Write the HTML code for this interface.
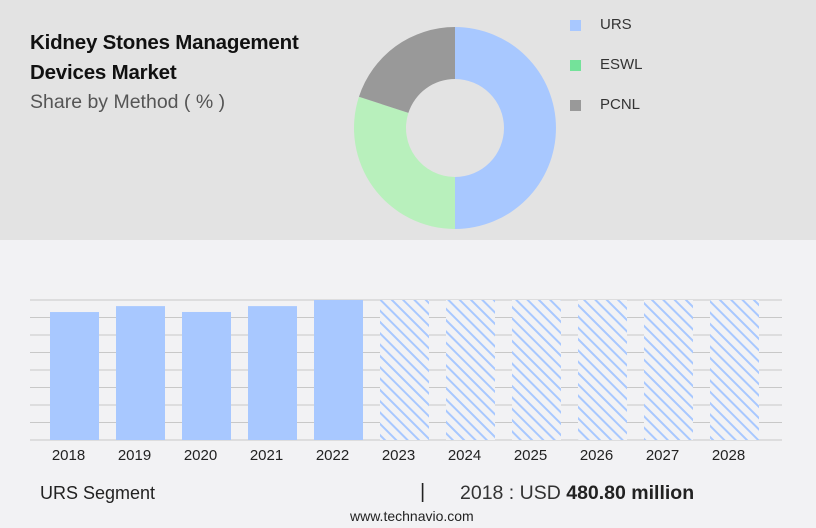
<!DOCTYPE html>
<html><head><meta charset="utf-8"><style>
body{margin:0;width:816px;height:528px;background:#f2f2f4;font-family:"Liberation Sans",sans-serif;position:relative;overflow:hidden}
.top{position:absolute;left:0;top:0;width:816px;height:240px;background:#e3e3e3}
.t{position:absolute;left:30px;top:28px;font-weight:bold;font-size:20.5px;line-height:30px;color:#111;letter-spacing:-0.2px}
.s{position:absolute;left:30px;top:91px;font-size:19.5px;color:#555}
.leg{position:absolute;left:570px;font-size:15px;color:#333}
.leg i{position:absolute;left:0;top:4px;width:11px;height:11px}
.leg span{position:absolute;left:30px;top:0}
</style></head><body>
<div class="top"></div>
<div class="t">Kidney Stones Management<br>Devices Market</div>
<div class="s">Share by Method ( % )</div>
<div class="leg" style="top:16px"><i style="background:#a8c8ff"></i><span>URS</span></div>
<div class="leg" style="top:56px"><i style="background:#74e29a"></i><span>ESWL</span></div>
<div class="leg" style="top:96px"><i style="background:#999"></i><span>PCNL</span></div>
<svg id="donut" width="816" height="240" style="position:absolute;left:0;top:0"></svg>
<svg id="bars" width="816" height="480" style="position:absolute;left:0;top:0">
<defs><pattern id="h" patternUnits="userSpaceOnUse" width="8" height="8" patternTransform="rotate(-45)"><rect width="8" height="8" fill="#f2f2f4"/><rect width="2" height="8" fill="#a8c8ff"/></pattern></defs>
</svg>
<div style="position:absolute;left:40px;top:483px;font-size:18px;color:#222">URS Segment</div>
<div style="position:absolute;left:420px;top:481px;font-size:20px;color:#222">|</div>
<div style="position:absolute;left:460px;top:482px;font-size:19.5px;color:#333">2018 : USD <b style="color:#222">480.80 million</b></div>
<div style="position:absolute;left:350px;top:508px;font-size:14px;color:#222">www.technavio.com</div>
<script>
const slices=["URS","ESWL","PCNL"];
const shares=[50,30,20];
const sliceColors=["#a8c8ff","#b8f0bc","#999999"];
const years=["2018","2019","2020","2021","2022","2023","2024","2025","2026","2027","2028"];
const values=[480.8,503,481,503,526,null,null,null,null,null,null];
const yMax=526;
const NS="http://www.w3.org/2000/svg";
const dsvg=document.getElementById('donut');
let cx=455,cy=128,R=101,r=49,a0=0,tot=shares.reduce((a,b)=>a+b,0);
function pt(a,rad){return [cx+rad*Math.sin(a),cy-rad*Math.cos(a)];}
shares.forEach((v,i)=>{
 const a1=a0+v/tot*2*Math.PI,l=(a1-a0)>Math.PI?1:0;
 const p1=pt(a0,R),p2=pt(a1,R),p3=pt(a1,r),p4=pt(a0,r);
 const p=document.createElementNS(NS,'path');
 p.setAttribute('d',`M${p1}A${R},${R} 0 ${l} 1 ${p2}L${p3}A${r},${r} 0 ${l} 0 ${p4}Z`);
 p.setAttribute('fill',sliceColors[i]);
 
 
 dsvg.appendChild(p);a0=a1;
});
const bsvg=document.getElementById('bars');
const x0=30,x1=782,base=440,yTop=300,step=66,bw=49,bx0=50;
const yScale=v=>base-(v/yMax)*(base-yTop);
for(let k=0;k<=8;k++){const gy=yTop+k*(base-yTop)/8;const l=document.createElementNS(NS,'line');
 l.setAttribute('x1',x0);l.setAttribute('x2',x1);l.setAttribute('y1',gy);l.setAttribute('y2',gy);
 l.setAttribute('stroke','#c8c8c8');l.setAttribute('stroke-width','1');
 
 
 bsvg.appendChild(l);}
years.forEach((yr,i)=>{
 const x=bx0+i*step,v=values[i];
 const rc=document.createElementNS(NS,'rect');
 const yy=v==null?yTop:yScale(v);
 rc.setAttribute('x',x);rc.setAttribute('y',yy);rc.setAttribute('width',bw);rc.setAttribute('height',base-yy);
 rc.setAttribute('fill',v==null?'url(#h)':'#a8c8ff');
 
 
 bsvg.appendChild(rc);
 const t=document.createElementNS(NS,'text');
 t.setAttribute('x',x+bw/2-6);t.setAttribute('y',460);t.setAttribute('text-anchor','middle');
 t.setAttribute('font-size','15');t.setAttribute('fill','#222');t.setAttribute('font-family','Liberation Sans, sans-serif');
 t.textContent=yr;
 
 
 bsvg.appendChild(t);
});
</script>
</body></html>
